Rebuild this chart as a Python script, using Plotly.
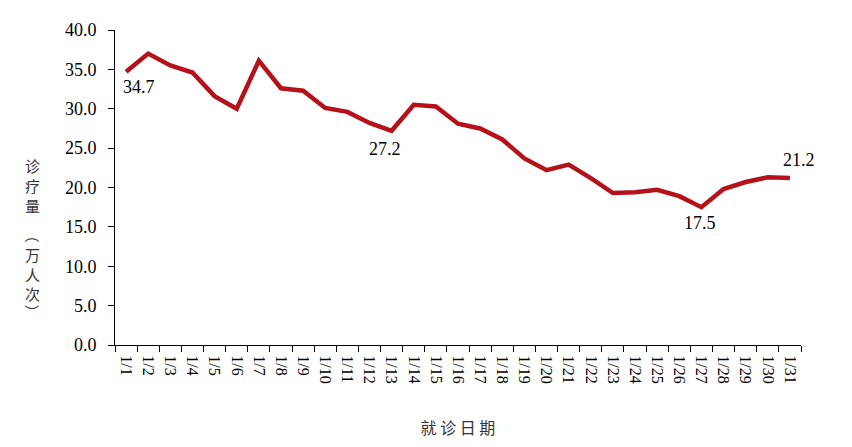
import plotly.graph_objects as go

# daily visit counts, 10k person-times
dates = ["1/%d" % d for d in range(1, 32)]
visits = [34.7, 37.0, 35.5, 34.6, 31.6, 30.0, 36.1, 32.6, 32.3, 30.1,
          29.6, 28.2, 27.2, 30.5, 30.3, 28.1, 27.5, 26.1, 23.7, 22.2,
          22.9, 21.2, 19.3, 19.4, 19.7, 18.9, 17.5, 19.8, 20.7, 21.3,
          21.2]

label_dates = ["1/1", "1/13", "1/27", "1/31"]
label_values = [34.7, 27.2, 17.5, 21.2]

y_ticks = [0, 5, 10, 15, 20, 25, 30, 35, 40]
y_title = "诊疗量（万人次）"

serif = "Liberation Serif, Times New Roman, serif"
cjk = "Noto Sans CJK SC"

fig = go.Figure()
fig.add_trace(go.Scatter(x=dates, y=visits, mode="lines",
                         line=dict(color="#B5111A", width=4.5),
                         hoverinfo="skip", showlegend=False))

# label offsets in px (page has an 8px body margin, so figure is 844x439)
shifts = [(13, -15), (-7, -18), (-1, -16), (9, 18)]
for d, v, (dx, dy) in zip(label_dates, label_values, shifts):
    fig.add_annotation(x=d, y=v, text="%.1f" % v, showarrow=False,
                       xshift=dx, yshift=dy,
                       font=dict(family=serif, size=18, color="black"))

fig.update_layout(
    width=844, height=439,
    margin=dict(l=107, r=51, t=19, b=92),
    paper_bgcolor="white", plot_bgcolor="white",
    font=dict(family=serif, color="black"),
    xaxis=dict(type="category", range=[-0.5, 30.5],
               tickson="boundaries", ticks="outside", ticklen=6,
               tickcolor="black", tickangle=90, ticklabelstandoff=6,
               tickfont=dict(family=serif, size=16),
               showline=True, linecolor="black", linewidth=1,
               showgrid=False, zeroline=False,
               title=dict(text="就 诊 日 期", standoff=40,
                          font=dict(family=cjk, size=16, color="#333333"))),
    yaxis=dict(range=[0, 40], tickvals=y_ticks,
               ticktext=["%.1f" % v for v in y_ticks],
               ticks="outside", ticklen=6, tickcolor="black",
               ticklabelstandoff=8,
               tickfont=dict(family=serif, size=18),
               showline=True, linecolor="black", linewidth=1,
               showgrid=False, zeroline=False),
)

# vertical y title, one glyph per annotation (pixel centres in the page);
# brackets are turned a quarter so they read as vertical brackets
centres = [165, 185, 205, 235, 255, 275, 295, 313]
for ch, yc in zip(y_title, centres):
    fig.add_annotation(xref="paper", yref="paper",
                       x=(33 - 115) / 678, y=(347 - yc) / 320,
                       text=ch, showarrow=False, borderpad=0,
                       textangle=90 if ch in "（）" else 0,
                       xanchor="center", yanchor="middle",
                       font=dict(family=cjk, size=15, color="#333333"))

fig.write_html("out.html")
